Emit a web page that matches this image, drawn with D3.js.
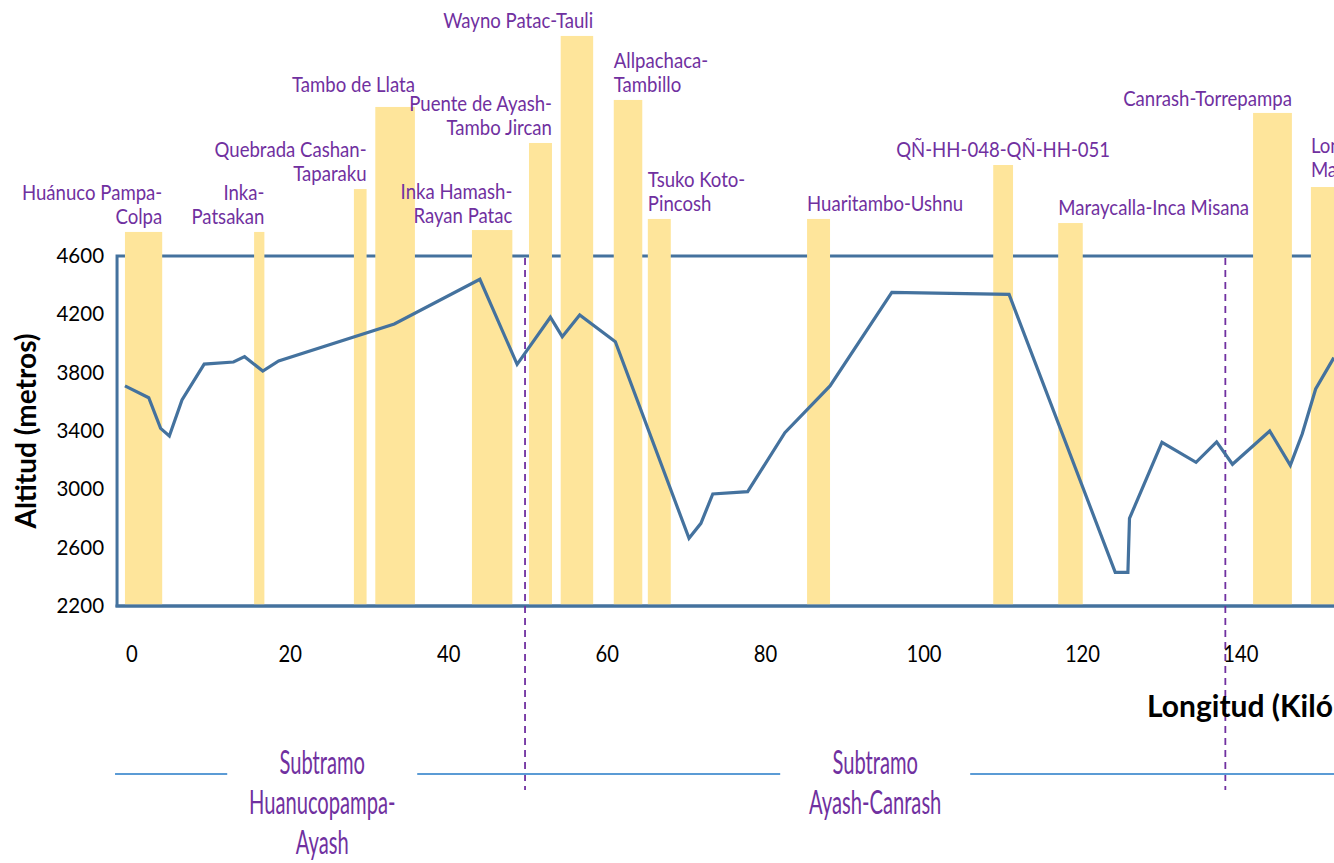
<!DOCTYPE html>
<html>
<head>
<meta charset="utf-8">
<script src="https://cdn.jsdelivr.net/npm/d3@7"></script>
<style>
  html, body { margin: 0; padding: 0; background: #ffffff; }
  svg { display: block; }
</style>
</head>
<body>
<svg id="chart" width="1334" height="863"></svg>
<script>
// ---------------- DATA ----------------
const kmTicks  = [0, 20, 40, 60, 80, 100, 120, 140];
const altTicks = [2200, 2600, 3000, 3400, 3800, 4200, 4600];

// elevation profile (km, metres)
const profileKm  = [-0.8, 2.2, 3.7, 4.8, 6.4, 9.2, 12.9, 14.3, 16.6, 18.6, 33.2, 44.0, 48.7, 52.9, 54.4, 56.6, 61.1,
                    70.4, 71.9, 73.4, 77.8, 82.5, 88.2, 96.0, 110.8, 124.2, 125.8, 126.0, 130.1, 134.4, 137.0, 139.0,
                    143.7, 146.3, 147.8, 149.5, 151.8];
const profileAlt = [3709, 3628, 3418, 3366, 3613, 3859, 3873, 3910, 3811, 3880, 4134, 4440, 3857, 4180, 4047, 4195, 4012,
                    2664, 2767, 2968, 2984, 3388, 3709, 4351, 4337, 2431, 2431, 2801, 3322, 3185, 3325, 3172,
                    3400, 3165, 3379, 3688, 3903];

// archaeological sites (bars): name, start km, end km, top value
const siteNames = ["Huánuco Pampa-\nColpa", "Inka-\nPatsakan", "Quebrada Cashan-\nTaparaku", "Tambo de Llata",
                   "Inka Hamash-\nRayan Patac", "Puente de Ayash-\nTambo Jircan", "Wayno Patac-Tauli",
                   "Allpachaca-\nTambillo", "Tsuko Koto-\nPincosh", "Huaritambo-Ushnu", "QÑ-HH-048-QÑ-HH-051",
                   "Maraycalla-Inca Misana", "Canrash-Torrepampa", "Lonccopampa-\nMarcapampa"];
const siteStart = [-0.8, 15.5, 28.1, 30.8, 43.0, 50.2, 54.2, 60.9, 65.2, 85.3, 108.8, 117.0, 141.6, 148.9];
const siteEnd   = [ 3.9, 16.8, 29.7, 35.8, 48.1, 53.1, 58.3, 64.5, 68.1, 88.2, 111.3, 120.1, 146.5, 153.5];
const siteTop   = [4765, 4765, 5059, 5622, 4778, 5375, 6109, 5670, 4854, 4854, 5224, 4826, 5581, 5073];

// sections (subtramos)
const sectionBounds = [-1.5, 49.7, 138.1];
const sectionNames  = ["Subtramo\nHuanucopampa-\nAyash", "Subtramo\nAyash-Canrash"];

const yTitle = "Altitud (metros)";
const xTitle = "Longitud (Kilómetros)";

// ---------------- LAYOUT ----------------
const labelAlign = ["end", "end", "end", "end", "end", "end", "end", "start", "start", "start", "middle", "start", "end", "start"];
const labelGap   = [8, 8, 8, 15, 7, 8, 8, 8, 8, 8, 8, 8, 7, 10];

const W = 1334, H = 863;
const svg = d3.select("#chart");
svg.append("rect").attr("width", W).attr("height", H).attr("fill", "#ffffff");

const x = d3.scaleLinear().domain([0, 140]).range([131.3, 1240.4]);
const y = d3.scaleLinear().domain([2200, 4600]).range([606, 256]);

const BLUE = "#44729e";
const PURPLE = "#7030a0";
const GOLD = "#fee59b";
const FONT = "Lato, 'Open Sans', sans-serif";

const frameLeft = x(-1.8);

// frame
svg.append("rect")
  .attr("x", frameLeft).attr("y", y(4600))
  .attr("width", 1500).attr("height", y(2200) - y(4600))
  .attr("fill", "none").attr("stroke", BLUE).attr("stroke-width", 3);

// bars
svg.append("g").selectAll("rect").data(siteNames).join("rect")
  .attr("x", (d, i) => x(siteStart[i]))
  .attr("width", (d, i) => x(siteEnd[i]) - x(siteStart[i]))
  .attr("y", (d, i) => y(siteTop[i]))
  .attr("height", (d, i) => y(2200) - y(siteTop[i]) - 1.5)
  .attr("fill", GOLD);

// bottom frame line on top of bars
svg.append("line")
  .attr("x1", frameLeft - 1.5).attr("x2", W + 10)
  .attr("y1", y(2200)).attr("y2", y(2200))
  .attr("stroke", BLUE).attr("stroke-width", 3);

// helper: condensed text
function ctext(parent, tx, ty, str, opts) {
  const g = parent.append("g").attr("transform", `translate(${tx},${ty}) scale(${opts.sx || 1},1)`);
  g.append("text")
    .attr("x", 0).attr("y", 0)
    .attr("text-anchor", opts.anchor || "start")
    .attr("font-family", FONT)
    .attr("font-size", opts.size)
    .attr("font-weight", opts.weight || "normal")
    .attr("fill", opts.fill || "#000")
    .text(str);
  return g;
}

// site labels
const labG = svg.append("g");
siteNames.forEach((name, i) => {
  const lines = name.split("\n");
  const ax = labelAlign[i] === "end" ? x(siteEnd[i]) :
             labelAlign[i] === "start" ? x(siteStart[i]) : (x(siteStart[i]) + x(siteEnd[i])) / 2;
  const lastBase = y(siteTop[i]) - labelGap[i];
  lines.forEach((ln, j) => {
    const by = lastBase - (lines.length - 1 - j) * 24;
    ctext(labG, ax, by, ln, { size: 21, sx: 0.885, anchor: labelAlign[i], fill: PURPLE });
  });
});

// dashed section boundaries
svg.append("g").selectAll("line").data(sectionBounds.slice(1)).join("line")
  .attr("x1", d => x(d)).attr("x2", d => x(d))
  .attr("y1", y(4600) + 2).attr("y2", 790)
  .attr("stroke", PURPLE).attr("stroke-width", 1.8).attr("stroke-dasharray", "7,5");

// profile line
const line = d3.line().x((d, i) => x(profileKm[i])).y((d, i) => y(profileAlt[i]));
svg.append("path").datum(profileKm)
  .attr("d", line)
  .attr("fill", "none").attr("stroke", BLUE).attr("stroke-width", 3.2)
  .attr("stroke-linejoin", "miter");

// y axis
const yAxis = svg.append("g").attr("transform", `translate(${frameLeft},0)`)
  .call(d3.axisLeft(y).tickValues(altTicks).tickSize(0).tickPadding(13).tickFormat(d3.format("d")));
yAxis.select(".domain").remove();
yAxis.selectAll("text").attr("font-family", FONT).attr("font-size", 20.5).attr("fill", "#000");

// x axis
const xAxis = svg.append("g").attr("transform", `translate(0,${y(2200)})`)
  .call(d3.axisBottom(x).tickValues(kmTicks).tickSize(0).tickPadding(39).tickFormat(d3.format("d")));
xAxis.select(".domain").remove();
xAxis.selectAll("text").attr("font-family", FONT).attr("font-size", 23.5).attr("fill", "#000")
  .attr("transform", "scale(0.86,1)");

// axis titles
svg.append("text")
  .attr("transform", `translate(35.5,${(y(2200) + y(4600)) / 2}) rotate(-90)`)
  .attr("text-anchor", "middle")
  .attr("font-family", FONT).attr("font-size", 28).attr("font-weight", "bold").attr("fill", "#000")
  .text(yTitle);

ctext(svg, 1147, 716.5, xTitle, { size: 30, sx: 1.0, weight: "bold" });

// section labels and separator lines
const secG = svg.append("g");
const secCenters = sectionNames.map((n, i) => (x(sectionBounds[i]) + x(sectionBounds[i + 1])) / 2);
const halfGap = 95;
const segs = [[frameLeft - 2, secCenters[0] - halfGap], [secCenters[0] + halfGap, secCenters[1] - halfGap], [secCenters[1] + halfGap, W + 10]];
secG.selectAll("line").data(segs).join("line")
  .attr("x1", d => d[0]).attr("x2", d => d[1])
  .attr("y1", 774).attr("y2", 774)
  .attr("stroke", "#5b9bd5").attr("stroke-width", 2);

sectionNames.forEach((name, i) => {
  name.split("\n").forEach((ln, j) => {
    ctext(secG, secCenters[i], 774 + j * 40, ln, { size: 32, sx: 0.63, anchor: "middle", fill: PURPLE });
  });
});
</script>
</body>
</html>
